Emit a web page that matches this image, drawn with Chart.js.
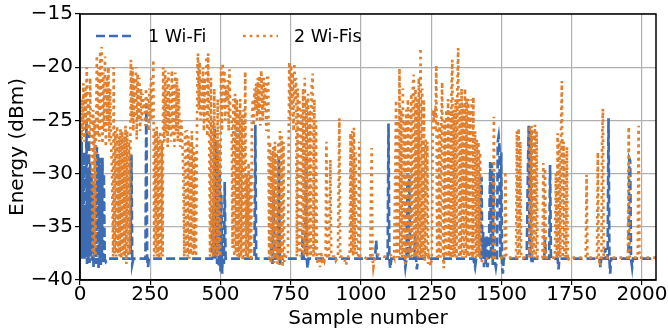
<!DOCTYPE html>
<html>
<head>
<meta charset="utf-8">
<script src="https://cdn.jsdelivr.net/npm/chart.js@4/dist/chart.umd.min.js"></script>
<style>
  html, body { margin: 0; padding: 0; background: #fff; }
  #wrap { width: 668px; height: 331px; }
</style>
</head>
<body>
<div id="wrap"><canvas id="graph" width="668" height="331"></canvas></div>
<script>
// === DATA === //

const seriesLabels = ["1 Wi-Fi", "2 Wi-Fis"]
const xTicks = [0, 250, 500, 750, 1000, 1250, 1500, 1750, 2000]
const yTicks = [-40, -35, -30, -25, -20, -15]

// [sample number, energy dBm]
const wifi1Points = [
  [0,-38],[2,-26.5],[4,-37.5],[6,-27],[8,-38],[10,-30],[12,-37.8],[14,-28],[16,-38],[18,-33],[20,-37.5],
  [23,-25],[25,-38.5],[28,-30],[30,-38],[32,-26.2],[34,-38.4],[36,-29],[38,-37.8],[41,-30],[43,-38.2],
  [46,-32],[48,-38.8],[51,-31],[53,-37.8],[56,-36],[58,-38.5],[60,-27.5],[62,-38.4],[64,-28],[66,-39],
  [68,-29],[70,-38],[72,-28.5],[74,-38.6],[76,-29.5],[78,-38],[80,-28.5],[82,-38.5],[85,-30],[88,-38],
  [92,-38.3],[100,-38],[150,-38],[180,-38],[183,-28.2],[186,-38.5],[190,-38],[233,-38],[236,-23.4],
  [239,-38],[242,-38.8],[245,-38],[300,-38],[400,-38],[470,-38],[473,-33],[476,-38],[479,-25.6],
  [482,-38],[485,-27],[488,-38.5],[491,-28],[494,-38.8],[497,-30],[500,-39.2],[503,-32],[506,-39.4],
  [509,-36],[512,-38.5],[515,-30.8],[518,-38],[600,-38],[621,-38],[624,-25.4],[627,-38],[650,-38],
  [679,-38],[682,-36.5],[685,-38.5],[689,-31.5],[692,-38],[705,-38],[708,-28.4],[711,-38.6],[714,-38],
  [790,-38],[793,-35.3],[796,-38],[801,-38],[804,-28.6],[807,-38],[810,-38.9],[813,-38],[1050,-38],
  [1054,-36.3],[1058,-38],[1095,-38],[1098,-25.3],[1101,-38],[1104,-38.9],[1108,-38],[1155,-38],
  [1158,-38.8],[1162,-38],[1166,-30],[1169,-38],[1172,-30.5],[1175,-38],[1190,-38],[1193,-35.6],
  [1196,-38],[1199,-39],[1203,-38],[1400,-38],[1406,-38.8],[1410,-38],[1426,-38],[1429,-30.3],
  [1432,-38],[1435,-35.5],[1438,-38.8],[1441,-36],[1444,-38.5],[1447,-35.8],[1450,-38.8],[1455,-38],
  [1460,-28.9],[1463,-38],[1466,-29],[1469,-38.6],[1472,-30],[1475,-38],[1480,-38.8],[1484,-38],
  [1487,-27],[1490,-26.5],[1493,-27.5],[1496,-38],[1499,-28],[1502,-38.8],[1505,-39.4],[1508,-38],
  [1590,-38],[1594,-30],[1597,-25.5],[1600,-38],[1603,-26],[1606,-38],[1609,-38.5],[1612,-38],
  [1652,-38],[1655,-36.2],[1658,-38],[1670,-38],[1673,-29.2],[1676,-38],[1700,-38],[1703,-39],
  [1706,-38],[1849,-38],[1852,-38.8],[1855,-38],[1866,-38],[1869,-37],[1872,-38],[1878,-38],
  [1881,-24.8],[1884,-38],[1887,-39.4],[1890,-38],[1952,-38],[1955,-28.6],[1958,-28.8],[1961,-38],
  [1965,-38.8],[1968,-38],[2050,-38]
]

const wifi2Points = [
  [0,-25.5],[2,-26.5],[4,-24.5],[6,-26.8],[8,-23],[10,-26],[12,-21.5],[14,-25.5],[16,-27],
  [19,-22],[21,-25.8],[24,-20],[27,-26.2],[30,-23],[33,-26.5],[36,-21],[39,-27],
  [42,-29],[45,-37.8],[47,-24],[50,-37.5],[52,-25],[55,-37.8],[57,-26],
  [60,-18.9],[63,-26.5],[66,-20],[69,-27],[72,-18.5],[75,-26],[77,-18.1],[80,-27.2],[83,-20.5],
  [86,-26],[89,-19],[92,-27.5],[95,-21],[98,-25.5],[101,-20],[104,-27],[107,-22],[110,-26.5],
  [114,-30],[118,-37.8],[120,-20],[123,-37.5],[126,-26],[129,-37.8],[132,-25.5],[135,-37.6],
  [138,-26.5],[141,-37.8],[144,-25.8],[147,-38],[150,-26],[153,-37.6],[156,-26.5],[159,-37.8],
  [162,-25.5],[165,-38.5],[168,-26],[171,-37.8],[174,-27],[177,-37.5],
  [181,-19.3],[184,-25],[187,-20],[190,-26],[193,-21],[196,-24.7],[199,-20],[202,-26.8],[205,-20.6],
  [208,-25],[211,-21],[214,-26],[217,-22],[220,-25],[223,-22.5],[226,-24],[229,-23],[232,-25.5],
  [235,-22],[238,-24.5],[241,-23],[244,-26],[247,-22],[250,-25],[253,-21],[256,-24],[258,-25],[261,-19.3],
  [264,-37.8],[267,-26],[270,-37.5],[273,-25.6],[276,-37.8],[279,-26.5],[282,-38],[285,-26],
  [288,-37.6],[291,-27],[294,-37.8],[296,-20],
  [300,-27],[303,-20.3],[306,-26.2],[309,-21],[312,-27.5],[315,-20.5],[318,-26],[321,-22],[324,-27],
  [327,-20.3],[330,-26.5],[333,-21.5],[336,-27.5],[339,-20.5],[342,-26],[345,-21],[348,-27],[351,-22],
  [354,-25],[357,-27.5],[360,-25],[364,-27],
  [368,-30],[371,-37.8],[374,-26],[377,-37.6],[380,-25.9],[383,-37.8],[386,-26.5],[389,-38],[392,-27],
  [395,-37.6],[398,-26],[401,-37.8],[404,-27.5],[407,-37.5],[410,-28],[413,-37.8],
  [418,-20],[420,-18.7],[423,-24],[426,-19.5],[429,-25],[432,-21],[435,-24.5],[438,-20],[441,-26],
  [444,-21],[447,-25],[450,-19],[453,-26.5],[456,-18.7],
  [460,-27],[463,-37.8],[466,-21],[469,-37.5],[472,-25],[475,-37.8],[478,-22],[481,-37.6],[484,-26],
  [487,-37.8],[490,-23],[493,-37.5],[496,-27],[499,-37.8],
  [502,-20],[505,-26],[508,-19.6],[511,-24],[514,-20.3],[517,-25],[520,-22],[523,-23],[526,-21.2],
  [529,-26],[532,-20.2],[535,-25],
  [540,-25],[543,-37],[546,-23],[549,-37.8],[552,-22.5],[555,-37.5],[558,-23],[561,-37.8],[564,-24],
  [567,-38],[570,-23],[573,-37.8],[576,-24.5],[579,-38.2],[582,-24],[585,-37.8],[588,-20.4],
  [591,-37.8],[594,-30],[597,-38],[600,-29],[603,-37.6],[606,-30],[609,-38.2],[612,-25],
  [615,-23],[618,-25.5],[621,-22],[624,-24],[627,-21.5],[630,-25],[633,-21],[636,-24.5],[639,-20.8],
  [642,-25.5],[645,-20.3],[648,-23],[651,-25],[654,-21],[657,-24],[660,-21.5],[663,-26],[666,-21],[670,-21],
  [673,-38],[676,-27],[679,-38.4],[682,-28],[685,-38],[688,-27.5],[691,-38.4],[694,-27],[697,-38],
  [700,-28],[703,-38.5],[706,-27],[709,-38.6],[712,-26],[715,-38.2],[718,-26.5],[721,-38.8],[724,-27],
  [727,-38.3],[730,-37.8],
  [740,-37.8],[743,-26],[745,-19.5],[748,-25],[751,-19.8],[754,-24],[757,-20.5],[760,-26],[763,-19.6],
  [766,-23],[769,-21],[772,-37.8],[775,-22],[778,-37.5],[781,-23],[784,-37.8],
  [788,-24],[791,-37.6],[794,-22],[797,-37.8],[800,-21],[803,-37.5],[806,-23],[809,-37.8],[812,-22.5],
  [815,-37.6],[818,-24],[821,-37.8],[824,-22],[828,-20.6],[831,-37.8],[834,-23],[837,-37.6],[840,-25],
  [843,-37.8],[846,-38.5],
  [850,-37.5],[854,-38.8],[858,-37.3],[862,-38.5],[866,-37.8],[870,-38.2],[874,-37.8],[877,-27],[880,-37.8],
  [886,-38],[891,-28.7],[894,-37.8],[905,-37.8],[910,-38.2],[918,-37.8],[923,-24.8],[926,-37.8],
  [940,-37.8],[946,-38.6],[955,-37.8],[960,-37.8],[963,-26.2],[966,-37.5],[969,-26],[972,-37.8],
  [975,-25.7],[978,-37.6],[981,-28],[984,-37.8],[990,-37.8],[994,-27],[997,-37.8],
  [1010,-37.8],[1020,-38],[1033,-37.8],[1038,-27.6],[1041,-37.8],[1044,-38.8],[1050,-37.8],[1060,-37.6],
  [1080,-37.8],[1100,-37.8],[1112,-37.5],
  [1118,-37.9],[1122,-30],[1125,-23.1],[1128,-37.9],[1131,-25],[1134,-37.9],[1137,-20.1],[1140,-37.6],
  [1143,-24],[1146,-37.9],[1149,-22],[1152,-37.8],[1155,-25],[1158,-38.5],[1161,-24],[1164,-37.9],
  [1167,-23],[1170,-37.8],[1173,-24],[1176,-37.9],[1179,-22.5],[1182,-37.8],[1185,-21.5],[1188,-20.7],
  [1191,-37.9],[1194,-22],[1197,-37.8],[1200,-23],[1203,-37.9],[1206,-21],[1209,-37.8],[1212,-18.2],
  [1215,-37.9],[1218,-22],[1221,-37.8],[1224,-23],[1227,-38.2],[1230,-26.8],[1233,-37.9],[1236,-27],
  [1239,-38.5],[1242,-37.9],[1248,-38.7],[1252,-37.9],[1256,-24],[1259,-25],[1262,-24.5],[1265,-26],
  [1268,-19.8],[1271,-37.9],[1274,-25],[1277,-37.8],[1280,-25.5],[1283,-37.9],[1286,-25],[1289,-21.4],
  [1292,-37.9],[1295,-38.9],[1298,-25],[1301,-37.8],[1304,-24],[1307,-37.9],[1310,-23],[1313,-37.8],
  [1316,-24],[1319,-37.9],[1322,-22],[1325,-19.3],[1328,-37.9],[1331,-24],[1334,-37.8],[1337,-23],
  [1340,-37.9],[1343,-22],[1346,-18.2],[1349,-37.9],[1352,-23],[1355,-37.8],[1358,-22],[1361,-37.9],
  [1364,-23.5],[1367,-37.8],[1370,-22],[1373,-37.9],[1376,-22.9],[1379,-37.8],[1382,-23],[1385,-37.9],
  [1388,-24],[1391,-37.8],[1394,-23],[1397,-37.9],[1400,-22.8],[1403,-37.8],[1406,-26],[1409,-37.9],
  [1412,-26.8],[1415,-37.8],[1418,-27],[1421,-37.9],[1424,-28],[1427,-38.3],
  [1440,-37.9],[1450,-38],[1465,-37.9],[1470,-37.9],[1473,-24.65],[1476,-37.9],[1490,-37.9],[1505,-37.9],
  [1511,-38],[1514,-29.8],[1517,-37.9],[1530,-37.9],[1545,-37.9],[1552,-37.9],[1555,-26],[1558,-37.8],
  [1561,-25.75],[1564,-37.9],[1567,-27],[1570,-37.9],[1585,-37.9],[1598,-37.9],[1601,-25.5],[1604,-37.9],
  [1607,-25.5],[1610,-37.8],[1613,-26],[1616,-37.9],[1619,-25.4],[1622,-37.8],[1625,-26],[1628,-37.9],
  [1640,-37.9],[1646,-37.9],[1649,-29],[1652,-37.9],[1655,-29.5],[1658,-37.9],[1680,-37.9],[1690,-37.9],
  [1694,-30],[1697,-37.9],[1700,-26.2],[1703,-37.8],[1706,-27],[1709,-37.9],[1712,-26],[1715,-21.3],
  [1718,-37.9],[1721,-27],[1724,-37.8],[1727,-28],[1730,-37.9],[1733,-27.5],[1736,-38.2],[1740,-37.9],
  [1770,-37.9],[1800,-37.9],[1803,-30.1],[1806,-37.9],[1830,-37.9],[1840,-37.9],[1843,-28],[1846,-37.9],
  [1851,-38.7],[1856,-37.9],[1858,-27],[1861,-23.9],[1864,-37.9],[1900,-37.9],[1950,-37.9],[1953,-25.6],
  [1956,-37.9],[1960,-37.9],[1985,-37.9],[1988,-25.5],[1991,-37.9],[2050,-37.9]
]

// === STYLE === //

const FONT = "'DejaVu Sans', sans-serif"
const blue = "#3d6cb3"
const orange = "#e0802f"
const blueDash = [9, 4]
const orangeDash = [2.7, 4]

function toXY(points) {
  return points.map(p => ({ x: p[0], y: p[1] }))
}

function minusSign(v) {
  return String(v).replace("-", "\u2212")
}

// legend drawn inside the plot, top-left, like matplotlib
const insideLegend = {
  id: "insideLegend",
  afterDraw(chart) {
    const ctx = chart.ctx
    const items = [
      { text: seriesLabels[0], color: blue, dash: blueDash, x0: 96, x1: 134, tx: 148 },
      { text: seriesLabels[1], color: orange, dash: orangeDash, x0: 243, x1: 278, tx: 294 }
    ]
    ctx.save()
    items.forEach(it => {
      ctx.beginPath()
      ctx.setLineDash(it.dash)
      ctx.lineWidth = 2.7
      ctx.strokeStyle = it.color
      ctx.moveTo(it.x0, 36)
      ctx.lineTo(it.x1, 36)
      ctx.stroke()
      ctx.setLineDash([])
      ctx.fillStyle = "#000"
      ctx.font = "17.5px " + FONT
      ctx.textBaseline = "middle"
      ctx.fillText(it.text, it.tx, 37)
    })
    ctx.restore()
  }
}

// full box around the plot area
const frame = {
  id: "frame",
  afterDatasetsDraw(chart) {
    const a = chart.chartArea
    const ctx = chart.ctx
    ctx.save()
    ctx.strokeStyle = "#000"
    ctx.lineWidth = 1.5
    ctx.strokeRect(a.left, a.top, a.right - a.left, a.bottom - a.top)
    ctx.restore()
  }
}

const config = {
  type: "line",
  data: {
    datasets: [
      {
        label: seriesLabels[1],
        data: toXY(wifi2Points),
        borderColor: orange,
        borderWidth: 2.7,
        borderDash: orangeDash,
        pointRadius: 0,
        tension: 0,
        fill: false,
        order: 0
      },
      {
        label: seriesLabels[0],
        data: toXY(wifi1Points),
        borderColor: blue,
        borderWidth: 2.7,
        borderDash: blueDash,
        pointRadius: 0,
        tension: 0,
        fill: false,
        order: 1
      }
    ]
  },
  options: {
    responsive: false,
    animation: false,
    devicePixelRatio: 1,
    layout: { padding: { top: 14, right: 12, left: 6, bottom: 0 } },
    plugins: {
      legend: { display: false },
      tooltip: { enabled: false }
    },
    scales: {
      x: {
        type: "linear",
        min: 0,
        max: 2050,
        afterBuildTicks: scale => { scale.ticks = xTicks.map(v => ({ value: v })) },
        afterFit: scale => { scale.height = 51 },
        grid: { color: "#b0b0b0", lineWidth: 1.2, tickColor: "#000", tickLength: 5, tickWidth: 1.2 },
        border: { color: "#000", width: 1.5 },
        ticks: {
          color: "#000",
          font: { family: FONT, size: 20, lineHeight: 1 },
          padding: 0,
          maxRotation: 0,
          callback: v => minusSign(v)
        },
        title: {
          display: true,
          text: "Sample number",
          color: "#000",
          font: { family: FONT, size: 20 },
          padding: { top: 0, bottom: 0 }
        }
      },
      y: {
        type: "linear",
        min: -40,
        max: -15,
        afterBuildTicks: scale => { scale.ticks = yTicks.map(v => ({ value: v })) },
        afterFit: scale => { scale.width = 74 },
        grid: { color: "#b0b0b0", lineWidth: 1.2, tickColor: "#000", tickLength: 5, tickWidth: 1.2 },
        border: { color: "#000", width: 1.5 },
        ticks: {
          color: "#000",
          font: { family: FONT, size: 20 },
          padding: 2,
          callback: v => minusSign(v)
        },
        title: {
          display: true,
          text: "Energy (dBm)",
          color: "#000",
          font: { family: FONT, size: 20 },
          padding: { top: 0, bottom: 0 }
        }
      }
    }
  },
  plugins: [insideLegend, frame]
}

const energyChart = new Chart(document.getElementById("graph"), config)
</script>
</body>
</html>
